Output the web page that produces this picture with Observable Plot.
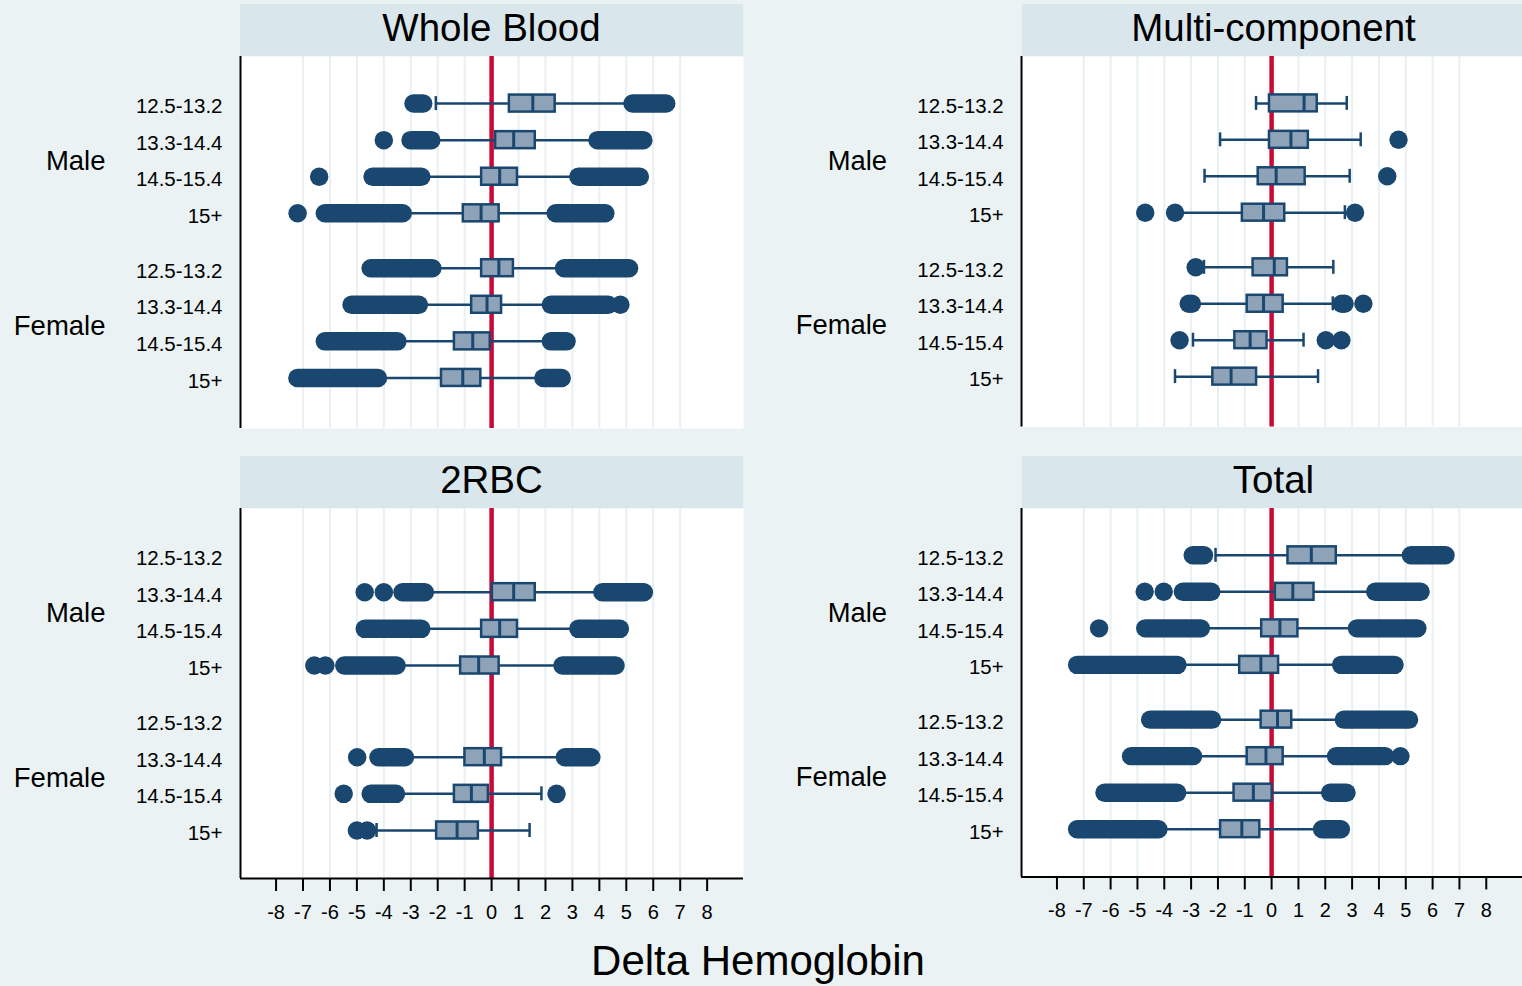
<!DOCTYPE html>
<html>
<head>
<meta charset="utf-8">
<script src="https://cdn.jsdelivr.net/npm/d3@7"></script>
<script src="https://cdn.jsdelivr.net/npm/@observablehq/plot@0.6"></script>
<style>
html, body { margin: 0; padding: 0; background: #eaf2f3; }
#chart { position: relative; width: 1522px; height: 986px; overflow: hidden; background: #eaf2f3;
  font-family: "Liberation Sans", Arial, Helvetica, sans-serif; }
.strip { position: absolute; height: 52px; width: 503px; background: #d9e6eb; text-align: center;
  font-size: 38.5px; line-height: 48px; color: #000; white-space: nowrap; }
.panel { position: absolute; }
#xtitle { position: absolute; left: 508px; width: 500px; top: 940px; text-align: center;
  font-size: 42px; line-height: 41px; color: #000; }
</style>
</head>
<body>
<div id="chart"></div>
<script>
// ---------- data ----------
const panels = ["Whole Blood", "Multi-component", "2RBC", "Total"];
const sexes = ["Male", "Female"];
const groups = ["12.5-13.2", "13.3-14.4", "14.5-15.4", "15+"];
const xTicks = [-8, -7, -6, -5, -4, -3, -2, -1, 0, 1, 2, 3, 4, 5, 6, 7, 8];

// box summaries per row (Male 4 groups, then Female 4 groups): [lowWhisker, q1, median, q3, highWhisker]
const wholeBloodBox = [
  [-2.07, 0.66, 1.53, 2.36, 5.15],
  [-2.12, 0.15, 0.82, 1.62, 3.85],
  [-2.49, -0.37, 0.30, 0.96, 3.14],
  [-3.18, -1.05, -0.39, 0.28, 2.30],
  [-2.08, -0.37, 0.27, 0.81, 2.61],
  [-2.58, -0.74, -0.17, 0.37, 2.12],
  [-3.38, -1.38, -0.70, -0.05, 2.12],
  [-4.10, -1.86, -1.07, -0.40, 1.84]
];
const multiBox = [
  [-0.58, -0.08, 1.21, 1.70, 2.80],
  [-1.92, -0.08, 0.72, 1.37, 3.32],
  [-2.50, -0.50, 0.17, 1.25, 2.91],
  [-3.50, -1.09, -0.30, 0.49, 2.73],
  [-2.52, -0.69, 0.10, 0.59, 2.30],
  [-2.85, -0.91, -0.30, 0.43, 2.28],
  [-2.93, -1.37, -0.80, -0.17, 1.19],
  [-3.60, -2.19, -1.51, -0.56, 1.73]
];
const rbcBox = [
  null,
  [-2.36, 0.03, 0.82, 1.62, 4.03],
  [-2.49, -0.37, 0.30, 0.96, 3.14],
  [-3.41, -1.15, -0.48, 0.28, 2.55],
  null,
  [-3.10, -0.99, -0.27, 0.37, 2.64],
  [-3.43, -1.38, -0.75, -0.12, 1.85],
  [-4.27, -2.04, -1.28, -0.49, 1.41]
];
const totalBox = [
  [-2.09, 0.61, 1.48, 2.41, 5.11],
  [-2.13, 0.14, 0.79, 1.58, 3.78],
  [-2.52, -0.37, 0.31, 0.98, 3.10],
  [-3.39, -1.19, -0.40, 0.26, 2.51],
  [-2.10, -0.39, 0.22, 0.75, 2.61],
  [-2.81, -0.91, -0.21, 0.43, 2.32],
  [-3.40, -1.40, -0.68, 0.02, 2.10],
  [-4.10, -1.90, -1.11, -0.44, 1.80]
];

// isolated outliers: [row, value]
const wholeBloodDots = [[1, -4.00], [2, -6.40], [3, -7.20], [5, 4.78]];
const multiDots = [[1, 4.73], [2, 4.31], [3, -4.71], [3, -3.60], [3, 3.11], [4, -2.83],
  [5, -3.09], [5, -2.97], [5, 2.61], [5, 2.72], [5, 3.42], [6, -3.43], [6, 2.02], [6, 2.60]];
const rbcDots = [[1, -4.71], [1, -4.00], [3, -6.58], [3, -6.17], [5, -4.99], [6, -5.49], [6, 2.41],
  [7, -5.00], [7, -4.62]];
const totalDots = [[1, -4.73], [1, -4.02], [2, -6.43], [5, 4.80]];

// dense runs of overlapping outliers: [row, from, to]
const wholeBloodRuns = [[0, -2.88, -2.52], [0, 5.25, 6.50], [1, -2.99, -2.22], [1, 3.95, 5.65],
  [2, -4.40, -2.59], [2, 3.24, 5.52], [3, -6.17, -3.28], [3, 2.40, 4.24],
  [4, -4.47, -2.18], [4, 2.71, 5.12], [5, -5.18, -2.68], [5, 2.22, 4.35],
  [6, -6.17, -3.48], [6, 2.22, 2.80], [7, -7.19, -4.20], [7, 1.94, 2.62]];
const multiRuns = [];
const rbcRuns = [[1, -3.29, -2.46], [1, 4.13, 5.67], [2, -4.69, -2.59], [2, 3.24, 4.78],
  [3, -5.45, -3.51], [3, 2.65, 4.62], [5, -4.18, -3.20], [5, 2.74, 3.72], [6, -4.47, -3.53]];
const totalRuns = [[0, -2.92, -2.50], [0, 5.21, 6.50], [1, -3.29, -2.23], [1, 3.88, 5.57],
  [2, -4.69, -2.62], [2, 3.20, 5.45], [3, -7.23, -3.49], [3, 2.61, 4.60],
  [4, -4.51, -2.20], [4, 2.71, 5.14], [5, -5.22, -2.91], [5, 2.42, 4.25],
  [6, -6.21, -3.50], [6, 2.20, 2.81], [7, -7.23, -4.20], [7, 1.90, 2.60]];

const panelBoxes = [wholeBloodBox, multiBox, rbcBox, totalBox];
const panelDots = [wholeBloodDots, multiDots, rbcDots, totalDots];
const panelRuns = [wholeBloodRuns, multiRuns, rbcRuns, totalRuns];

// ---------- styling ----------
const navy = "#1a476f";
const boxFill = "#8fa3b8";
const red = "#c70a36";
const gridColor = "#e8f0f2";
const xDomain = [-9.32, 9.35];

// row index -> vertical position (gap between Male and Female groups)
const rowPos = i => Math.floor(i / 4) * 4.5 + (i % 4) + 1;
const rowIdx = d3.range(8);
const rowLabel = new Map(rowIdx.map(i => [rowPos(i), groups[i % 4]]));
const sexLabel = new Map(sexes.map((s, k) => [k * 4.5 + 2.5, s]));

const chart = document.getElementById("chart");

panels.forEach((title, p) => {
  const col = p % 2, row = Math.floor(p / 2);
  const left = col * 782;
  const stripTop = row ? 456 : 4;
  const svgTop = row ? 508 : 56;
  const plotH = row ? 370 : 372;
  const yDomain = row ? [-0.282, 9.809] : [-0.287, 9.882];

  const strip = document.createElement("div");
  strip.className = "strip";
  strip.style.left = (left + 240) + "px";
  strip.style.top = stripTop + "px";
  strip.textContent = title;
  chart.appendChild(strip);

  const boxes = panelBoxes[p]
    .map((b, i) => b && {pos: rowPos(i), lo: b[0], q1: b[1], med: b[2], q3: b[3], hi: b[4]})
    .filter(Boolean);
  const caps = boxes.flatMap(b => [{pos: b.pos, v: b.lo}, {pos: b.pos, v: b.hi}]);
  const dots = panelDots[p].map(([r, v]) => ({pos: rowPos(r), v}));
  const runs = panelRuns[p].map(([r, a, b]) => ({pos: rowPos(r), from: a, to: b}));

  const marks = [
    Plot.frame({fill: "white", stroke: null}),
    Plot.ruleX(xTicks.filter(t => Math.abs(t) < 8), {stroke: gridColor, strokeWidth: 2}),
    Plot.ruleX([0], {stroke: red, strokeWidth: 4.5}),
    Plot.ruleY(boxes, {y: "pos", x1: "lo", x2: "hi", stroke: navy, strokeWidth: 2.5}),
    Plot.ruleX(caps, {x: "v", y1: "pos", y2: "pos", insetTop: -7, insetBottom: -7, stroke: navy, strokeWidth: 2.5}),
    Plot.rect(boxes, {x1: "q1", x2: "q3", y1: "pos", y2: "pos", insetTop: -8.5, insetBottom: -8.5,
      fill: boxFill, stroke: navy, strokeWidth: 2.5}),
    Plot.ruleX(boxes, {x: "med", y1: "pos", y2: "pos", insetTop: -8.5, insetBottom: -8.5, stroke: navy, strokeWidth: 3}),
    Plot.ruleY(runs, {y: "pos", x1: "from", x2: "to", stroke: navy, strokeWidth: 18.5, strokeLinecap: "round"}),
    Plot.dot(dots, {x: "v", y: "pos", r: 9.25, fill: navy}),
    Plot.ruleX([xDomain[0]], {stroke: "black", strokeWidth: 2}),
    Plot.axisY({ticks: [...rowLabel.keys()], tickFormat: v => rowLabel.get(v), tickSize: 0, tickPadding: 18,
      fontSize: 20.5, dy: 3, label: null}),
    Plot.axisY({ticks: [...sexLabel.keys()], tickFormat: v => sexLabel.get(v), tickSize: 0, tickPadding: 135,
      fontSize: 27.5, dy: 3, label: null})
  ];
  if (row) {
    marks.push(
      Plot.ruleY([yDomain[1]], {stroke: "black", strokeWidth: 2}),
      Plot.axisX({ticks: xTicks, tickFormat: d => String(d), tickSize: 13, tickPadding: 13,
        fontSize: 20, strokeWidth: 2, label: null})
    );
  }

  const svg = Plot.plot({
    width: 743,
    height: plotH + (row ? 50 : 0),
    marginLeft: 240,
    marginRight: 0,
    marginTop: 0,
    marginBottom: row ? 50 : 0,
    style: {fontFamily: '"Liberation Sans", Arial, Helvetica, sans-serif', background: "transparent",
      overflow: "visible", color: "black"},
    x: {domain: xDomain, label: null, ...(row ? {} : {axis: null})},
    y: {domain: yDomain, reverse: true, label: null},
    marks
  });
  const wrap = document.createElement("div");
  wrap.className = "panel";
  wrap.style.left = left + "px";
  wrap.style.top = svgTop + "px";
  wrap.appendChild(svg);
  chart.appendChild(wrap);
});

const xt = document.createElement("div");
xt.id = "xtitle";
xt.textContent = "Delta Hemoglobin";
chart.appendChild(xt);
</script>
</body>
</html>
